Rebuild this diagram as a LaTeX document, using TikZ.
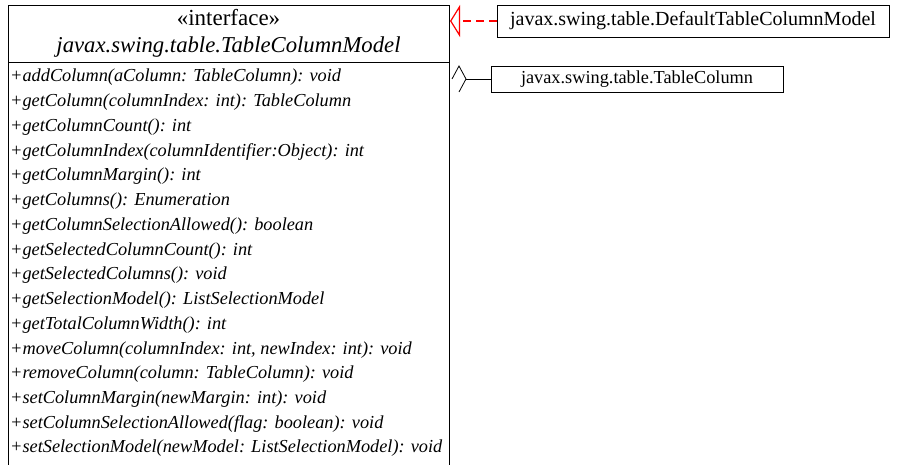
\documentclass[tikz,border=0pt]{standalone}
\usepackage{fontspec}
\setmainfont{Liberation Serif}
\usetikzlibrary{arrows.meta}

\tikzset{
  meth/.style={anchor=base west, inner sep=0pt, font=\fontsize{18.3}{18.3}\selectfont\itshape},
  classbox/.style={draw, thick, fill=white, inner sep=0pt, font=\fontsize{20}{20}\selectfont},
}

\begin{document}
\begin{tikzpicture}[x=1pt,y=1pt]
\useasboundingbox (0,0) rectangle (899,-465);
% the interface box, open at the bottom
\draw[thick] (8,-465) -- (8,-5) -- (449,-5) -- (449,-465);
\draw[thick] (8,-62) -- (449,-62);
\node[anchor=base, inner sep=0pt, font=\fontsize{23}{23}\selectfont] (stereo) at (228.5,-26) {«interface»};
\node[anchor=base, inner sep=0pt, font=\fontsize{22.7}{22.7}\selectfont\itshape] (iname) at (228.5,-53) {javax.swing.table.TableColumnModel};
% methods
\node[meth] (m1) at (10,-82) {+addColumn(aColumn: TableColumn): void};
\node[meth] (m2) at (10,-106.7) {+getColumn(columnIndex: int): TableColumn};
\node[meth] (m3) at (10,-131.5) {+getColumnCount(): int};
\node[meth] (m4) at (10,-156.2) {+getColumnIndex(columnIdentifier:Object): int};
\node[meth] (m5) at (10,-180.9) {+getColumnMargin(): int};
\node[meth] (m6) at (10,-205.7) {+getColumns(): Enumeration};
\node[meth] (m7) at (10,-230.4) {+getColumnSelectionAllowed(): boolean};
\node[meth] (m8) at (10,-255.1) {+getSelectedColumnCount(): int};
\node[meth] (m9) at (10,-279.8) {+getSelectedColumns(): void};
\node[meth] (m10) at (10,-304.6) {+getSelectionModel(): ListSelectionModel};
\node[meth] (m11) at (10,-329.3) {+getTotalColumnWidth(): int};
\node[meth] (m12) at (10,-354) {+moveColumn(columnIndex: int, newIndex: int): void};
\node[meth] (m13) at (10,-378.8) {+removeColumn(column: TableColumn): void};
\node[meth] (m14) at (10,-403.5) {+setColumnMargin(newMargin: int): void};
\node[meth] (m15) at (10,-428.2) {+setColumnSelectionAllowed(flag: boolean): void};
\node[meth] (m16) at (10,-452.9) {+setSelectionModel(newModel: ListSelectionModel): void};
% related classes
\node[classbox, minimum width=392, minimum height=32] (dtcm) at (693,-21) {javax.swing.table.DefaultTableColumnModel};
\node[classbox, minimum width=292, minimum height=26, font=\fontsize{18.3}{18.3}\selectfont] (tcol) at (637,-79) {javax.swing.table.TableColumn};
\coordinate (impl) at (450,-21);
\coordinate (agg) at (466,-79);
% implements
\draw[red, line width=2.2pt, dash pattern=on 8pt off 5pt, -{Triangle[open, length=10pt, width=32pt, line width=1.2pt, sep=0pt]}] (dtcm.west) -- (impl);
% aggregation
\draw[thick] (tcol.west) -- (agg);
\draw[thick] (452,-79) -- (459,-66) -- (agg) -- (459,-92);
\end{tikzpicture}
\end{document}
